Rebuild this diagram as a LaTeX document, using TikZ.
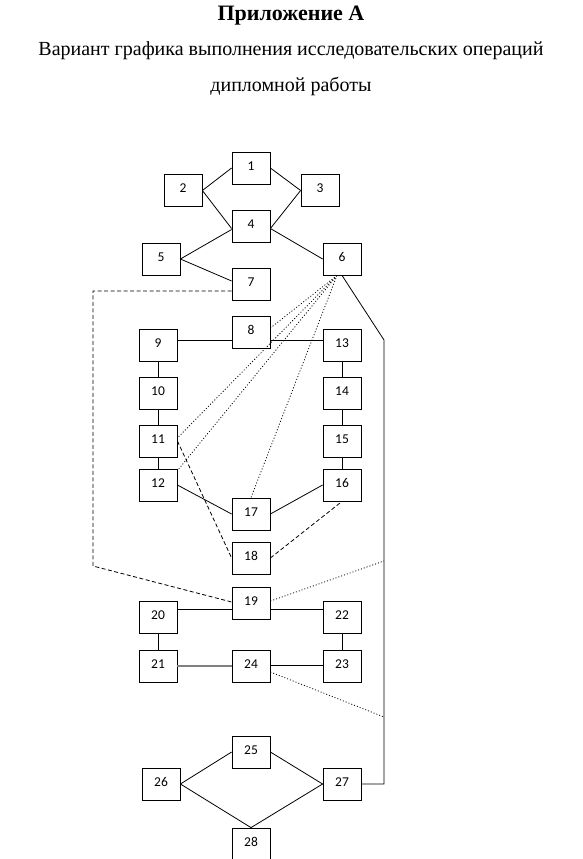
\documentclass[tikz,border=0pt]{standalone}
\usepackage{fontspec}
\setmainfont{Liberation Serif}
\newfontfamily\numfont{Carlito}
\begin{document}
\begin{tikzpicture}[x=1pt,y=-1pt,
  box/.style={draw,line width=0.8pt,rectangle,minimum width=38pt,minimum height=32pt,inner sep=0pt,
    font=\numfont\fontsize{13.5}{14}\selectfont,text height=10pt,text depth=6pt},
  link/.style={line width=0.8pt},
  dsh/.style={line width=0.8pt,dash pattern=on 4pt off 2.5pt},
  dtt/.style={line width=0.8pt,dash pattern=on 1pt off 2pt},
  ttl/.style={anchor=base,inner sep=0pt}]
\useasboundingbox (0,0) rectangle (582,859);
% titles
\node[ttl,font=\bfseries\fontsize{22}{24}\selectfont] (t1) at (291,21) {Приложение А};
\node[ttl,font=\fontsize{20}{22}\selectfont] (t2) at (291,56) {Вариант графика выполнения исследовательских операций};
\node[ttl,font=\fontsize{20}{22}\selectfont] (t3) at (291,92) {дипломной работы};
% boxes
\node[box] (n1) at (251,168) {1};
\node[box] (n2) at (183,190.5) {2};
\node[box] (n3) at (320,190.5) {3};
\node[box] (n4) at (251,226.5) {4};
\node[box] (n5) at (161,259) {5};
\node[box] (n6) at (342,259) {6};
\node[box] (n7) at (251,284) {7};
\node[box] (n8) at (251,332) {8};
\node[box] (n9) at (158,345) {9};
\node[box] (n13) at (342,345) {13};
\node[box] (n10) at (158,393.5) {10};
\node[box] (n14) at (342,393.5) {14};
\node[box] (n11) at (158,441) {11};
\node[box] (n15) at (342,441) {15};
\node[box] (n12) at (158,485) {12};
\node[box] (n16) at (342,485) {16};
\node[box] (n17) at (251,514) {17};
\node[box] (n18) at (251,558) {18};
\node[box] (n19) at (251,603) {19};
\node[box] (n20) at (158,617.5) {20};
\node[box] (n22) at (342,617.5) {22};
\node[box] (n21) at (158,666) {21};
\node[box] (n24) at (251,666) {24};
\node[box] (n23) at (342,666) {23};
\node[box] (n25) at (251,752) {25};
\node[box] (n26) at (161,784) {26};
\node[box] (n27) at (342,784) {27};
\node[box] (n28) at (251,844) {28};
% free ends
\coordinate (dl1) at (93,291);
\coordinate (dl2) at (93,566);
\coordinate (r1) at (384,340);
\coordinate (r3) at (384,561);
\coordinate (r4) at (384,717);
% solid
\draw[link] (n2.east) -- (n1.west);
\draw[link] (n2.east) -- ([yshift=-2pt]n4.west);
\draw[link] (n1.east) -- (n3.west);
\draw[link] (n3.west) -- ([yshift=-2pt]n4.east);
\draw[link] ([yshift=-3pt]n4.west) -- (n5.east);
\draw[link] (n5.east) -- ([yshift=3pt]n7.west);
\draw[link] ([yshift=-2pt]n4.east) -- (n6.west);
\draw[link] (n6.south) -- (r1) -- (r1 |- n27.east) -- (n27.east);
\draw[link] ([yshift=-8pt]n8.west) -- ([yshift=-8pt]n8.west -| n9.east);
\draw[link] ([yshift=-8pt]n8.east) -- ([yshift=-8pt]n8.east -| n13.west);
\draw[link] (n9.south) -- (n10.north);
\draw[link] (n10.south) -- (n11.north);
\draw[link] (n11.south) -- (n12.north);
\draw[link] (n13.south) -- (n14.north);
\draw[link] (n14.south) -- (n15.north);
\draw[link] (n15.south) -- (n16.north);
\draw[link] (n12.east) -- (n17.west);
\draw[link] (n17.east) -- (n16.west);
\draw[link] ([yshift=8pt]n20.east) -- ([yshift=8pt]n20.east -| n19.west);
\draw[link] ([yshift=-6pt]n19.east) -- ([yshift=-6pt]n19.east -| n22.west);
\draw[link] (n20.south) -- (n21.north);
\draw[link] (n22.south) -- (n23.north);
\draw[line width=1.3pt,gray] (n21.east) -- (n24.west);
\draw[link] ([yshift=1pt]n24.east) -- ([yshift=1pt]n23.west);
\draw[link] (n26.east) -- (n25.west);
\draw[link] (n25.east) -- (n27.west);
\draw[link] (n26.east) -- (n28.north);
\draw[link] (n28.north) -- (n27.west);
% dashed
\draw[dsh] ([yshift=-7pt]n7.west) -- (dl1) -- (dl2) -- ([yshift=1pt]n19.west);
\draw[dsh] (n11.east) -- (n18.west);
\draw[dsh] (n18.east) -- (n16.south);
% dotted
\draw[dtt] ([xshift=-5pt]n6.south) -- ([yshift=4pt]n8.east);
\draw[dtt] ([xshift=-5pt]n6.south) -- ([yshift=3pt]n11.east);
\draw[dtt] ([xshift=-5pt]n6.south) -- ([yshift=-2pt]n12.north east);
\draw[dtt] ([xshift=-5pt]n6.south) -- (n17.north);
\draw[dtt] ([yshift=2pt]n19.east) -- (r3);
\draw[dtt] ([yshift=-6pt]n24.east) -- (r4);
\end{tikzpicture}
\end{document}
